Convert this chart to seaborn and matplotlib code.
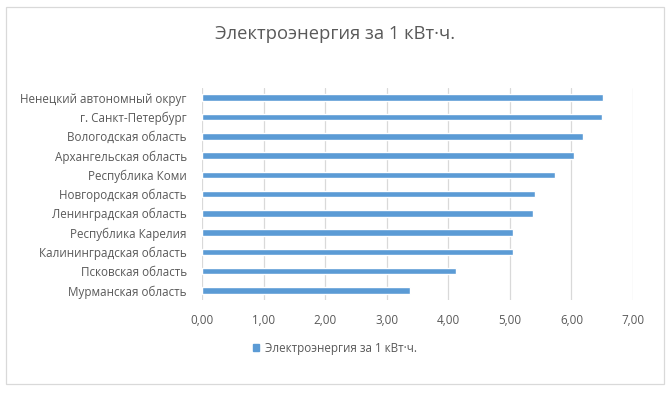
import matplotlib
matplotlib.use("Agg")
import matplotlib.pyplot as plt
import matplotlib.patches as mpatches
import pandas as pd
import seaborn as sns

regions = [
    "Ненецкий автономный округ",
    "г. Санкт-Петербург",
    "Вологодская область",
    "Архангельская область",
    "Республика Коми",
    "Новгородская область",
    "Ленинградская область",
    "Республика Карелия",
    "Калининградская область",
    "Псковская область",
    "Мурманская область",
]
prices = [6.51, 6.50, 6.18, 6.04, 5.73, 5.41, 5.37, 5.05, 5.05, 4.12, 3.38]
x_ticks = [0, 1, 2, 3, 4, 5, 6, 7]
series_name = "Электроэнергия за 1 кВт·ч."

sns.set_style("white")
plt.rcParams["font.family"] = ["Open Sans", "DejaVu Sans"]

df = pd.DataFrame({"region": regions, "price": prices})
bar_color = "#5b9bd5"
text_color = "#595959"

fig = plt.figure(figsize=(6.7, 3.95), dpi=100)
ax = fig.add_axes([0.3015, 0.2405, 0.6433, 0.5365])

sns.barplot(data=df, x="price", y="region", orient="h", color=bar_color,
            width=0.34, saturation=1, ax=ax, zorder=3)

ax.set_xlim(0, 7)
ax.set_xticks(x_ticks)
ax.set_xticklabels([f"{t:.2f}".replace(".", ",") for t in x_ticks])
ax.grid(axis="x", color="#d9d9d9", linewidth=0.9, zorder=0)
ax.set_xlabel("")
ax.set_ylabel("")
for s in ax.spines.values():
    s.set_visible(False)
ax.tick_params(axis="both", length=0, labelsize=8.4, labelcolor=text_color)
ax.tick_params(axis="y", pad=11)
ax.tick_params(axis="x", pad=10)

fig.text(0.5, 0.915, series_name, ha="center", va="center",
         fontsize=13.2, color=text_color)

handle = mpatches.Patch(color=bar_color, label=series_name)
fig.legend(handles=[handle], loc="center", bbox_to_anchor=(0.5, 0.118),
           frameon=False, fontsize=8.4, labelcolor=text_color,
           handlelength=0.5, handleheight=0.5, handletextpad=0.5)

border = mpatches.Rectangle((0.009, 0.028), 0.982, 0.955, transform=fig.transFigure,
                            fill=False, edgecolor="#d9d9d9", linewidth=0.9)
fig.patches.append(border)

fig.savefig("out.png", dpi=100, facecolor="white")
